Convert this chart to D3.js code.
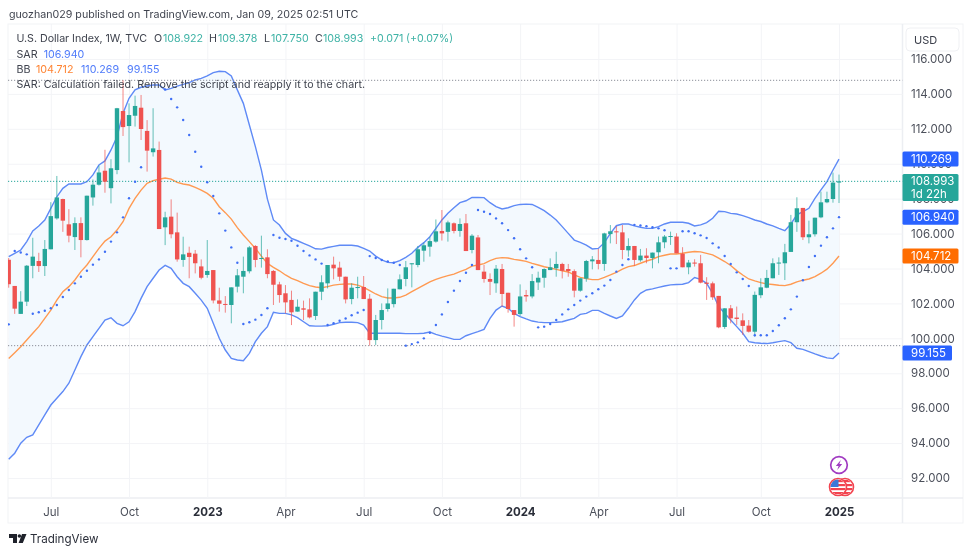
<!DOCTYPE html>
<html>
<head>
<meta charset="utf-8">
<script src="https://cdn.jsdelivr.net/npm/d3@7"></script>
<style>
  html, body { margin: 0; padding: 0; background: #fff; }
  svg { display: block; font-family: Inter, "Noto Sans", sans-serif; filter: blur(0.3px); }
  .tick text { fill: #4c505b; font-size: 11.5px; font-family: Inter, "Noto Sans", sans-serif; }
  .domain { display: none; }
  .grid line { stroke: #f3f4f7; stroke-width: 1; }
</style>
</head>
<body>
<div id="chart"></div>
<script>
// weekly candles
var opens = [
  104.5,103.0,101.4,102.1,104.15,104.43,104.14,105.1,106.87,107.98,
  106.53,105.8,106.6,105.63,108.07,108.8,109.6,108.6,109.64,113.02,
  112.16,112.75,113.21,111.88,110.66,110.79,106.36,106.97,106.07,104.49,
  104.9,104.85,104.12,103.63,103.91,102.17,101.97,101.91,102.96,103.53,
  103.84,105.29,104.56,104.64,103.86,103.09,102.58,102.2,101.53,101.72,
  101.66,101.28,102.67,103.15,104.22,104.05,103.53,102.25,102.88,102.94,
  102.27,99.9,101.05,101.68,101.96,102.81,103.4,104.24,104.2,105.02,
  105.25,105.54,106.15,106.1,106.59,106.15,106.59,105.06,105.78,103.82,
  103.4,103.15,103.97,102.61,101.62,101.39,102.48,102.4,103.2,103.47,
  103.91,104.01,104.26,103.97,103.85,102.73,103.42,104.41,104.49,104.26,
  105.97,106.13,106.07,105.04,105.29,104.47,104.74,104.6,104.93,105.5,
  105.83,105.83,104.85,104.07,104.34,104.3,103.19,103.15,102.43,100.65,
  101.72,101.19,101.03,100.73,100.38,102.47,102.9,103.44,104.3,104.3,
  104.95,106.65,107.47,105.79,105.96,106.93,107.79,107.98,108.922];
var highs = [
  104.6,103.0,102.7,104.2,105.76,104.9,105.63,107.8,109.3,108.0,
  107.4,106.93,106.93,108.17,109.1,109.9,110.8,110.26,113.2,114.78,
  113.46,113.9,113.94,112.5,113.18,111.27,107.25,107.96,107.2,105.82,
  105.25,105.06,104.52,105.63,103.91,102.9,102.42,102.92,103.97,104.68,
  105.29,105.34,105.88,105.1,103.91,103.24,103.05,102.73,102.23,102.16,
  102.29,102.67,103.61,104.2,104.68,104.39,103.53,103.15,103.53,103.57,
  102.54,101.34,102.0,102.86,102.84,103.66,104.43,104.3,105.29,105.48,
  105.82,106.81,107.35,106.74,106.64,106.87,107.12,105.97,105.92,104.2,
  103.72,104.2,104.26,102.61,101.62,103.09,102.77,103.68,103.82,104.01,
  104.58,104.96,104.33,104.26,103.95,103.44,104.49,104.71,105.12,106.05,
  106.49,106.43,106.49,105.73,105.29,105.12,105.16,104.91,105.83,105.92,
  106.11,106.02,105.22,104.49,104.53,104.78,103.5,103.25,102.43,101.72,
  101.91,101.82,101.43,101.05,102.68,103.44,103.92,104.58,104.64,105.41,
  107.07,108.08,107.47,106.74,106.91,108.4,108.4,109.49,109.378];
var lows = [
  102.9,101.4,101.4,101.85,103.44,103.8,103.57,105.1,106.8,106.1,
  105.5,105.06,104.64,105.6,107.6,108.75,108.34,107.73,109.4,111.59,
  110.08,112.13,111.36,109.55,110.41,106.26,105.34,105.73,104.39,104.1,
  103.44,103.72,103.38,103.47,102.0,101.53,101.47,100.86,102.63,102.58,
  103.72,104.07,104.05,103.44,101.91,102.04,101.43,100.76,101.53,101.05,
  101.14,101.05,102.19,102.86,103.38,103.28,102.0,101.95,102.29,102.25,
  99.58,99.62,100.51,101.53,101.77,102.81,102.98,102.92,104.07,104.39,
  104.68,105.48,105.6,105.54,106.01,105.82,105.0,104.87,103.91,103.19,
  102.48,102.61,101.81,101.47,100.67,101.28,102.1,102.29,102.77,102.9,
  103.91,103.53,103.43,103.53,102.35,102.67,103.24,103.95,103.95,103.87,
  105.44,105.4,104.53,104.68,104.15,104.39,104.3,104.01,104.3,105.16,
  105.35,104.87,104.07,103.67,104.11,103.15,102.2,102.2,100.58,100.54,
  100.86,100.77,100.2,100.33,100.1,102.3,102.87,103.44,103.63,103.34,
  104.95,106.1,105.63,105.44,105.83,106.88,107.74,107.77,107.75];
var closes = [
  103.1,101.7,102.1,104.16,104.68,104.14,105.12,107.0,108.07,106.74,
  105.88,106.6,105.63,108.17,108.8,109.5,108.97,109.74,113.18,112.1,
  112.79,113.31,111.99,110.75,110.88,106.26,106.93,105.96,104.52,104.81,
  104.66,104.3,103.47,103.86,102.17,101.98,101.93,102.92,103.61,103.86,
  105.21,104.49,104.6,103.68,103.07,102.48,102.06,101.49,101.81,101.64,
  101.2,102.67,103.21,104.2,104.01,103.53,102.23,102.9,102.94,102.25,
  99.9,101.05,101.62,102.0,102.84,103.38,104.07,104.3,105.1,105.33,
  105.57,106.13,106.01,106.64,106.15,106.55,105.0,105.88,103.91,103.4,
  103.24,103.99,102.54,101.68,101.34,102.4,102.4,103.28,103.47,103.97,
  104.07,104.26,103.87,103.85,102.73,103.44,104.43,104.52,104.26,106.01,
  106.13,106.07,105.06,105.29,104.49,104.74,104.6,104.91,105.5,105.83,
  105.86,104.87,104.07,104.34,104.28,103.19,103.12,102.35,100.63,101.72,
  101.15,101.11,100.71,100.38,102.49,102.92,103.46,104.3,104.34,104.93,
  106.65,107.45,105.79,105.96,106.91,107.79,107.98,108.92,108.993];

// bollinger bands
var bbUpper = [
  104.68,104.87,105.06,105.54,106.15,106.43,106.78,107.44,108.11,108.59,
  108.84,108.84,108.84,108.97,109.36,109.93,110.16,110.79,111.55,112.89,
  113.75,114.23,114.38,114.45,114.51,114.51,114.23,114.32,114.45,114.55,
  114.65,114.8,114.89,115.03,115.22,115.3,115.28,115.03,114.23,113.46,
  112.22,110.98,109.64,107.97,106.78,106.49,106.01,105.73,105.59,105.44,
  105.29,105.13,105.11,105.2,105.27,105.33,105.33,105.33,105.29,105.15,
  105.0,104.71,104.49,104.35,104.33,104.45,104.64,104.87,105.21,105.48,
  105.82,106.3,106.78,107.16,107.48,107.77,107.88,108.07,108.07,108.06,
  107.77,107.54,107.41,107.48,107.6,107.67,107.69,107.67,107.5,107.31,
  107.06,106.78,106.4,106.01,105.63,105.5,105.34,105.12,105.15,105.48,
  106.01,106.45,106.55,106.55,106.44,106.36,106.3,106.3,106.4,106.55,
  106.65,106.65,106.65,106.59,106.44,106.5,106.63,106.88,107.28,107.26,
  107.16,107.12,107.03,106.91,106.78,106.69,106.55,106.44,106.3,106.17,
  106.55,107.07,107.26,107.45,108.02,108.5,108.98,109.64,110.269];
var bbBasis = [
  98.85,99.18,99.52,99.9,100.29,100.67,101.14,101.62,102.19,102.67,
  102.96,103.34,103.82,104.2,104.68,105.15,105.57,105.82,106.2,106.68,
  107.44,108.02,108.49,108.88,109.03,109.11,109.18,109.12,108.93,108.84,
  108.78,108.65,108.49,108.3,108.02,107.54,107.2,106.83,106.34,105.92,
  105.54,105.15,104.71,104.29,104.07,103.87,103.63,103.44,103.3,103.15,
  103.02,102.94,102.9,102.96,103.05,103.09,103.11,103.11,103.05,102.92,
  102.73,102.54,102.39,102.31,102.31,102.35,102.48,102.67,102.86,103.05,
  103.24,103.38,103.49,103.59,103.68,103.82,103.95,104.14,104.2,104.28,
  104.45,104.58,104.62,104.6,104.52,104.47,104.41,104.29,104.2,104.1,
  104.03,103.95,103.87,103.8,103.63,103.49,103.42,103.36,103.36,103.49,
  103.63,103.78,103.96,104.11,104.17,104.3,104.43,104.53,104.68,104.76,
  104.83,104.83,104.87,104.93,104.97,104.95,104.87,104.78,104.59,104.4,
  104.17,103.88,103.63,103.4,103.29,103.19,103.12,103.08,103.04,103.02,
  103.1,103.23,103.33,103.4,103.54,103.73,103.96,104.3,104.712];
var bbLower = [
  93.07,93.42,93.99,94.33,94.47,95.04,95.61,96.18,96.57,96.95,
  97.43,98.19,98.95,99.62,100.1,100.57,101.05,101.18,100.86,100.72,
  100.95,101.53,102.29,102.96,103.44,103.91,104.18,104.01,103.53,103.15,
  102.96,102.58,102.19,101.72,100.86,100.0,99.33,98.85,98.76,98.72,
  99.14,99.81,100.29,100.67,101.49,101.43,101.43,101.34,101.18,100.95,
  100.72,100.7,100.7,100.72,100.8,100.9,100.92,100.92,100.9,100.76,
  100.29,100.29,100.29,100.29,100.29,100.29,100.27,100.27,100.27,100.29,
  100.36,100.23,100.13,100.04,99.94,99.94,100.15,100.27,100.38,100.51,
  101.14,101.62,101.85,101.72,101.43,101.24,101.11,100.99,100.93,100.9,
  100.9,100.92,100.95,101.05,101.14,101.37,101.43,101.6,101.6,101.43,
  101.28,101.14,101.28,101.72,102.2,102.58,102.77,102.83,102.92,103.0,
  103.06,103.08,103.1,103.19,103.48,103.38,103.15,102.58,101.82,101.44,
  101.05,100.67,100.29,99.81,99.75,99.72,99.7,99.75,99.81,99.87,
  99.75,99.43,99.37,99.24,99.11,98.99,98.88,98.84,99.155];

// parabolic sar dots, null where none is visible
var sar = [
  100.8,105.0,104.92,104.81,101.41,101.49,101.58,101.72,101.91,102.37,
  102.77,103.15,103.53,103.87,104.22,104.52,104.96,105.54,106.07,106.93,
  108.02,108.97,109.8,null,null,null,114.26,113.71,113.23,112.51,
  111.65,110.69,109.83,108.94,108.15,107.16,106.17,105.21,104.33,100.82,
  100.92,101.07,101.34,101.72,105.92,105.76,105.69,105.59,105.3,105.0,
  104.75,104.52,104.28,100.76,100.86,101.01,101.14,101.32,101.47,101.62,
  104.71,104.6,104.49,104.41,104.33,104.2,99.58,99.67,99.77,100.0,
  100.32,100.76,101.37,102.08,102.73,103.28,103.76,104.2,107.35,107.25,
  107.12,106.87,106.59,106.2,105.73,105.1,104.58,104.07,100.63,100.67,
  100.82,101.05,101.37,101.66,101.91,102.16,102.39,102.58,102.81,103.02,
  103.34,103.82,104.2,104.53,106.5,106.46,106.42,106.36,106.3,106.19,
  104.01,104.01,106.13,106.13,106.02,105.9,105.75,105.44,105.2,104.72,
  104.26,103.78,103.4,103.0,100.18,100.18,100.18,100.42,100.75,101.15,
  101.66,102.39,103.33,104.09,104.72,105.31,105.79,106.3,106.94];

// x axis: bar index of each label
var tickBars = [7, 20, 33, 46, 59, 72, 85, 98, 111, 125, 138];
var tickLabels = ['Jul', 'Oct', '2023', 'Apr', 'Jul', 'Oct', '2024', 'Apr', 'Jul', 'Oct', '2025'];
var priceTicks = [92, 94, 96, 98, 100, 102, 104, 106, 108, 110, 112, 114, 116];

var priceLabels = [
  {value: '110.269', price: 110.269, color: '#2962ff', right: 958.5},
  {value: '106.940', price: 106.94, color: '#2962ff', right: 958.5},
  {value: '104.712', price: 104.712, color: '#ff6d00', right: 958.5},
  {value: '99.155', price: 99.155, color: '#2962ff', right: 952}
];

var width = 972, height = 555;
var paneLeft = 8, paneRight = 902.5, paneTop = 24, paneBottom = 498, outerRight = 963, outerBottom = 523;
var teal = '#26a69a', red = '#ef5350';

var svg = d3.select('#chart').append('svg')
  .attr('width', width)
  .attr('height', height);

var x = d3.scaleLinear().domain([0, 138]).range([8.7, 839]);
var y = d3.scaleLinear().domain([92, 116]).range([478, 59]);

svg.append('clipPath').attr('id', 'pane')
  .append('rect')
    .attr('x', paneLeft)
    .attr('y', paneTop)
    .attr('width', paneRight - paneLeft)
    .attr('height', paneBottom - paneTop);

// frame
svg.append('rect')
  .attr('x', paneLeft).attr('y', paneTop)
  .attr('width', outerRight - paneLeft).attr('height', outerBottom - paneTop)
  .attr('fill', 'none').attr('stroke', '#f2f3f6');
svg.append('line')
  .attr('x1', paneRight).attr('x2', paneRight).attr('y1', paneTop).attr('y2', outerBottom)
  .attr('stroke', '#eceef2').attr('stroke-width', 1.5);
svg.append('line')
  .attr('x1', paneLeft).attr('x2', outerRight).attr('y1', paneBottom).attr('y2', paneBottom)
  .attr('stroke', '#eceef2').attr('stroke-width', 1.5);

// grid
svg.append('g').attr('class', 'grid')
  .attr('transform', 'translate(' + paneLeft + ',0)')
  .call(d3.axisRight(y).tickValues(priceTicks).tickSize(paneRight - paneLeft).tickFormat(''));
svg.append('g').attr('class', 'grid')
  .attr('transform', 'translate(0,' + paneTop + ')')
  .call(d3.axisBottom(x).tickValues(tickBars).tickSize(paneBottom - paneTop).tickFormat(''));

var chart = svg.append('g').attr('clip-path', 'url(#pane)');
var bars = d3.range(closes.length);

// band fill and lines
chart.append('path').datum(bars)
  .attr('fill', '#f3f9fe')
  .attr('d', d3.area()
    .x(function(i) { return x(i); })
    .y0(function(i) { return y(bbLower[i]); })
    .y1(function(i) { return y(bbUpper[i]); }));

function addLine(values, color) {
  chart.append('path').datum(values)
    .attr('fill', 'none')
    .attr('stroke', color)
    .attr('stroke-width', 1.4)
    .attr('d', d3.line()
      .x(function(d, i) { return x(i); })
      .y(function(d) { return y(d); }));
}
addLine(bbUpper, '#5f8af6');
addLine(bbLower, '#5f8af6');
addLine(bbBasis, '#ff9a52');

// dotted price lines
function addPriceLine(price, color) {
  chart.append('line')
    .attr('x1', paneLeft).attr('x2', paneRight)
    .attr('y1', y(price)).attr('y2', y(price))
    .attr('stroke', color)
    .attr('stroke-dasharray', '1.2 1.8');
}
addPriceLine(d3.max(highs), '#8b8f99');
addPriceLine(d3.min(lows), '#8b8f99');
addPriceLine(closes[closes.length - 1], teal);

// candles
chart.selectAll('line.wick')
  .data(bars)
  .enter()
  .append('line')
    .attr('class', 'wick')
    .attr('x1', function(i) { return x(i); })
    .attr('x2', function(i) { return x(i); })
    .attr('y1', function(i) { return y(highs[i]); })
    .attr('y2', function(i) { return y(lows[i]); })
    .attr('stroke', function(i) { return closes[i] >= opens[i] ? teal : red; })
    .attr('stroke-opacity', 0.7)
    .attr('stroke-width', 1);
chart.selectAll('rect.body')
  .data(bars)
  .enter()
  .append('rect')
    .attr('class', 'body')
    .attr('x', function(i) { return x(i) - 2.2; })
    .attr('width', 4.4)
    .attr('y', function(i) { return y(Math.max(opens[i], closes[i])); })
    .attr('height', function(i) { return Math.max(1, Math.abs(y(opens[i]) - y(closes[i]))); })
    .attr('fill', function(i) { return closes[i] >= opens[i] ? teal : red; });

// sar dots
chart.selectAll('circle.sar')
  .data(bars.filter(function(i) { return sar[i] !== null; }))
  .enter()
  .append('circle')
    .attr('class', 'sar')
    .attr('cx', function(i) { return x(i); })
    .attr('cy', function(i) { return y(sar[i]); })
    .attr('r', 1.2)
    .attr('fill', '#3f6ff5');

// axes
svg.append('g')
  .attr('transform', 'translate(911,0)')
  .call(d3.axisRight(y).tickValues(priceTicks).tickSize(0).tickPadding(0).tickFormat(d3.format('.3f')));
var xAxis = svg.append('g')
  .attr('transform', 'translate(0,505)')
  .call(d3.axisBottom(x).tickValues(tickBars).tickSize(0).tickPadding(3)
    .tickFormat(function(d, i) { return tickLabels[i]; }));
xAxis.selectAll('text')
  .style('font-weight', function(d, i) { return /^\d/.test(tickLabels[i]) ? 700 : 400; })
  .style('fill', function(d, i) { return /^\d/.test(tickLabels[i]) ? '#2a2e39' : '#4c505b'; });

// price labels on the scale
priceLabels.forEach(function(d) {
  var py = y(d.price);
  svg.append('rect')
    .attr('x', paneRight).attr('y', py - 7.5)
    .attr('width', d.right - paneRight).attr('height', 15)
    .attr('rx', 1.5)
    .attr('fill', d.color);
  svg.append('text')
    .attr('x', 911).attr('y', py + 4.2)
    .attr('fill', '#fff').attr('font-size', 11.5)
    .text(d.value);
});

svg.append('rect')
  .attr('x', paneRight).attr('y', 174)
  .attr('width', 958.5 - paneRight).attr('height', 27)
  .attr('rx', 1.5)
  .attr('fill', teal);
svg.append('text').attr('x', 911).attr('y', 185.2).attr('fill', '#fff').attr('font-size', 11.5).text('108.993');
svg.append('text').attr('x', 911).attr('y', 198).attr('fill', '#fff').attr('font-size', 11.5).text('1d 22h');

// currency button
svg.append('rect')
  .attr('x', 906).attr('y', 28).attr('width', 53).attr('height', 23).attr('rx', 4)
  .attr('fill', '#fff').attr('stroke', '#eff0f3');
svg.append('text').attr('x', 914).attr('y', 43.5).attr('fill', '#3a3e4a').attr('font-size', 11).text('USD');

// header and legend
var ink = '#3f434e', legendTeal = '#3fb3a6', legendBlue = '#4f7bfa', legendOrange = '#ff8433';

function addText(px, py, str, color, size) {
  return svg.append('text')
    .attr('x', px).attr('y', py)
    .attr('fill', color)
    .attr('font-size', size || 10.7)
    .text(str);
}
addText(9, 18, 'guozhan029 published on TradingView.com, Jan 09, 2025 02:51 UTC', ink, 10.67);

addText(16.5, 42, 'U.S. Dollar Index, 1W, TVC', ink).attr('textLength', 130.5);
addText(154, 42, 'O', ink);
addText(163, 42, '108.922', legendTeal);
addText(209, 42, 'H', ink);
addText(218, 42, '109.378', legendTeal);
addText(264, 42, 'L', ink);
addText(271, 42, '107.750', legendTeal);
addText(315, 42, 'C', ink);
addText(323, 42, '108.993', legendTeal);
addText(370, 42, '+0.071', legendTeal);
addText(406, 42, '(+0.07%)', legendTeal);

addText(16.5, 57.5, 'SAR', ink);
addText(43.7, 57.5, '106.940', legendBlue);

addText(16.5, 73, 'BB', ink);
addText(36, 73, '104.712', legendOrange);
addText(81, 73, '110.269', legendBlue);
addText(127, 73, '99.155', legendBlue);

addText(16.5, 88, 'SAR: Calculation failed. Remove the script and reapply it to the chart.', ink).attr('textLength', 348.5);

// event badges at the last bar
var lastX = x(138);
var bolt = svg.append('g').attr('transform', 'translate(' + lastX + ',465)');
bolt.append('circle').attr('r', 8.3).attr('fill', '#fff').attr('stroke', '#a13bc2').attr('stroke-width', 1.7);
bolt.append('path').attr('d', 'M1.8-5 L-3.2 1 L-0.4 1 L-1.8 5 L3.2-1 L0.4-1 Z').attr('fill', '#a13bc2');

var flagDefs = svg.append('clipPath').attr('id', 'flagClip');
flagDefs.append('circle').attr('r', 7.5);
[7, 0].forEach(function(dx) {
  var flag = svg.append('g').attr('transform', 'translate(' + (lastX + dx - 1) + ',487)');
  flag.append('circle').attr('r', 8.5).attr('fill', '#fff').attr('stroke', '#f2434f').attr('stroke-width', 1.6);
  var inner = flag.append('g').attr('clip-path', 'url(#flagClip)');
  d3.range(4).forEach(function(k) {
    inner.append('rect').attr('x', -8).attr('y', -7 + k * 4).attr('width', 16).attr('height', 2.2).attr('fill', '#f2434f');
  });
  if (dx === 0) {
    inner.append('rect').attr('x', -8).attr('y', -8).attr('width', 8.5).attr('height', 8).attr('fill', '#3b78d8');
  }
});

// footer logo
svg.append('path')
  .attr('d', 'M9 534h8v9h-4v-5H9z M22 534h4.5l-3.7 9h-4.2z')
  .attr('fill', '#1f222b');
svg.append('circle').attr('cx', 19.4).attr('cy', 536).attr('r', 1.8).attr('fill', '#1f222b');
addText(30, 543, 'TradingView', '#2a2e39', 11.6);
</script>
</body>
</html>
